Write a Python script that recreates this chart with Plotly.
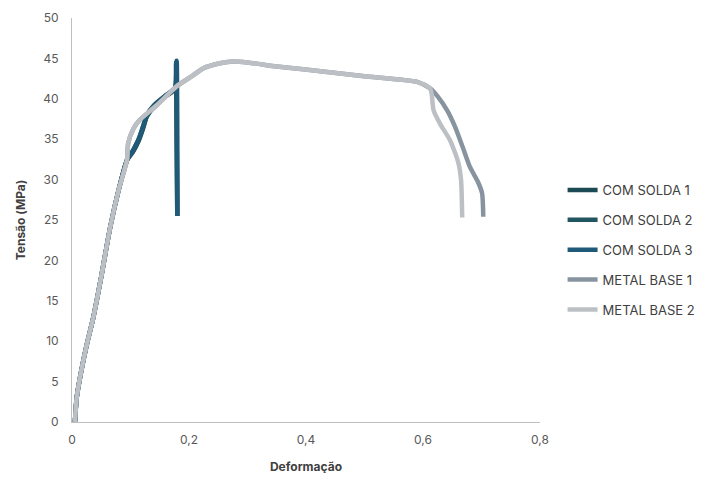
import plotly.graph_objects as go

# Deformação (x) and Tensão (MPa) (y)
base_x = [0.005, 0.008, 0.015, 0.025, 0.036, 0.050, 0.065, 0.080, 0.094]
base_y = [0.0, 3.0, 6.0, 9.5, 12.8, 18.0, 24.0, 28.8, 32.4]

cs1_x = base_x + [0.104, 0.114, 0.121, 0.128, 0.140, 0.160, 0.176, 0.178, 0.179, 0.180]
cs1_y = base_y + [33.4, 34.8, 36.2, 37.8, 39.0, 40.3, 41.2, 44.3, 35.0, 25.5]

cs2_x = base_x + [0.104, 0.114, 0.121, 0.128, 0.140, 0.160, 0.176, 0.178, 0.179, 0.180]
cs2_y = base_y + [33.6, 35.0, 36.5, 38.0, 39.2, 40.4, 41.3, 44.5, 35.0, 25.5]

cs3_x = base_x + [0.104, 0.114, 0.121, 0.128, 0.140, 0.160, 0.177, 0.179, 0.180, 0.180]
cs3_y = base_y + [33.5, 35.0, 36.4, 37.9, 39.1, 40.4, 41.4, 44.7, 35.0, 25.5]

mb1_x = base_x + [0.096, 0.105, 0.116, 0.145, 0.178, 0.207, 0.225, 0.253, 0.270, 0.300, 0.350, 0.440, 0.500, 0.590, 0.612, 0.625, 0.641, 0.655, 0.668, 0.680, 0.694, 0.701, 0.703]
mb1_y = base_y + [34.5, 36.3, 37.4, 39.2, 41.5, 42.9, 43.8, 44.4, 44.6, 44.5, 44.0, 43.3, 42.8, 42.1, 41.3, 40.3, 38.6, 36.5, 34.0, 31.6, 29.7, 28.3, 25.4]

mb2_x = base_x + [0.096, 0.105, 0.116, 0.145, 0.178, 0.207, 0.225, 0.253, 0.270, 0.300, 0.350, 0.440, 0.500, 0.590, 0.612, 0.615, 0.618, 0.630, 0.646, 0.660, 0.665, 0.667]
mb2_y = base_y + [34.5, 36.3, 37.4, 39.2, 41.5, 42.9, 43.8, 44.4, 44.6, 44.5, 44.0, 43.3, 42.8, 42.1, 41.3, 40.5, 38.6, 36.8, 34.9, 32.2, 30.0, 25.3]

series_names = ["COM SOLDA 1", "COM SOLDA 2", "COM SOLDA 3", "METAL BASE 1", "METAL BASE 2"]
series_colors = ["#1c4a54", "#21555f", "#1f5b78", "#8794a0", "#bcc0c4"]

x_tickvals = [0, 0.2, 0.4, 0.6, 0.8]
x_ticktext = ["0", "0,2", "0,4", "0,6", "0,8"]
y_tickvals = [0, 5, 10, 15, 20, 25, 30, 35, 40, 45, 50]

data = [(cs1_x, cs1_y), (cs2_x, cs2_y), (cs3_x, cs3_y), (mb1_x, mb1_y), (mb2_x, mb2_y)]

fig = go.Figure()
for (xs, ys), name, color in zip(data, series_names, series_colors):
    fig.add_trace(go.Scatter(
        x=xs, y=ys, name=name, mode="lines", legendgroup=name,
        line=dict(color=color, width=4.5, shape="spline", smoothing=0.6),
    ))

# the page body adds an 8px offset, so the figure is 702x473
fig.update_layout(
    width=702, height=473,
    margin=dict(l=64, r=170, t=10, b=59, autoexpand=False),
    plot_bgcolor="white", paper_bgcolor="white",
    font=dict(family="Inter, Roboto, sans-serif", size=12, color="#595959"),
    showlegend=True,
    legend=dict(
        xref="container", yref="container",
        x=0.790, y=0.647, xanchor="left", yanchor="top",
        font=dict(size=13, color="#404040"),
        traceorder="grouped", tracegroupgap=10,
        bgcolor="rgba(0,0,0,0)",
    ),
)
fig.update_xaxes(
    range=[0, 0.8], tickvals=x_tickvals, ticktext=x_ticktext, automargin=False,
    showgrid=False, zeroline=False, showline=True, linecolor="#bfbfbf", linewidth=1,
    ticks="", ticklabelstandoff=7, tickfont=dict(size=12, color="#595959"),
    title=dict(text="<b>Deformação</b>", font=dict(size=12, color="#404040"), standoff=16),
)
fig.update_yaxes(
    range=[0, 50], tickvals=y_tickvals, automargin=False,
    showgrid=False, zeroline=False, showline=True, linecolor="#bfbfbf", linewidth=1,
    ticks="", ticklabelstandoff=10, tickfont=dict(size=12, color="#595959"),
    title=dict(text="<b>Tensão (MPa)</b>", font=dict(size=12, color="#404040"), standoff=15),
)

fig.write_html("out.html")
